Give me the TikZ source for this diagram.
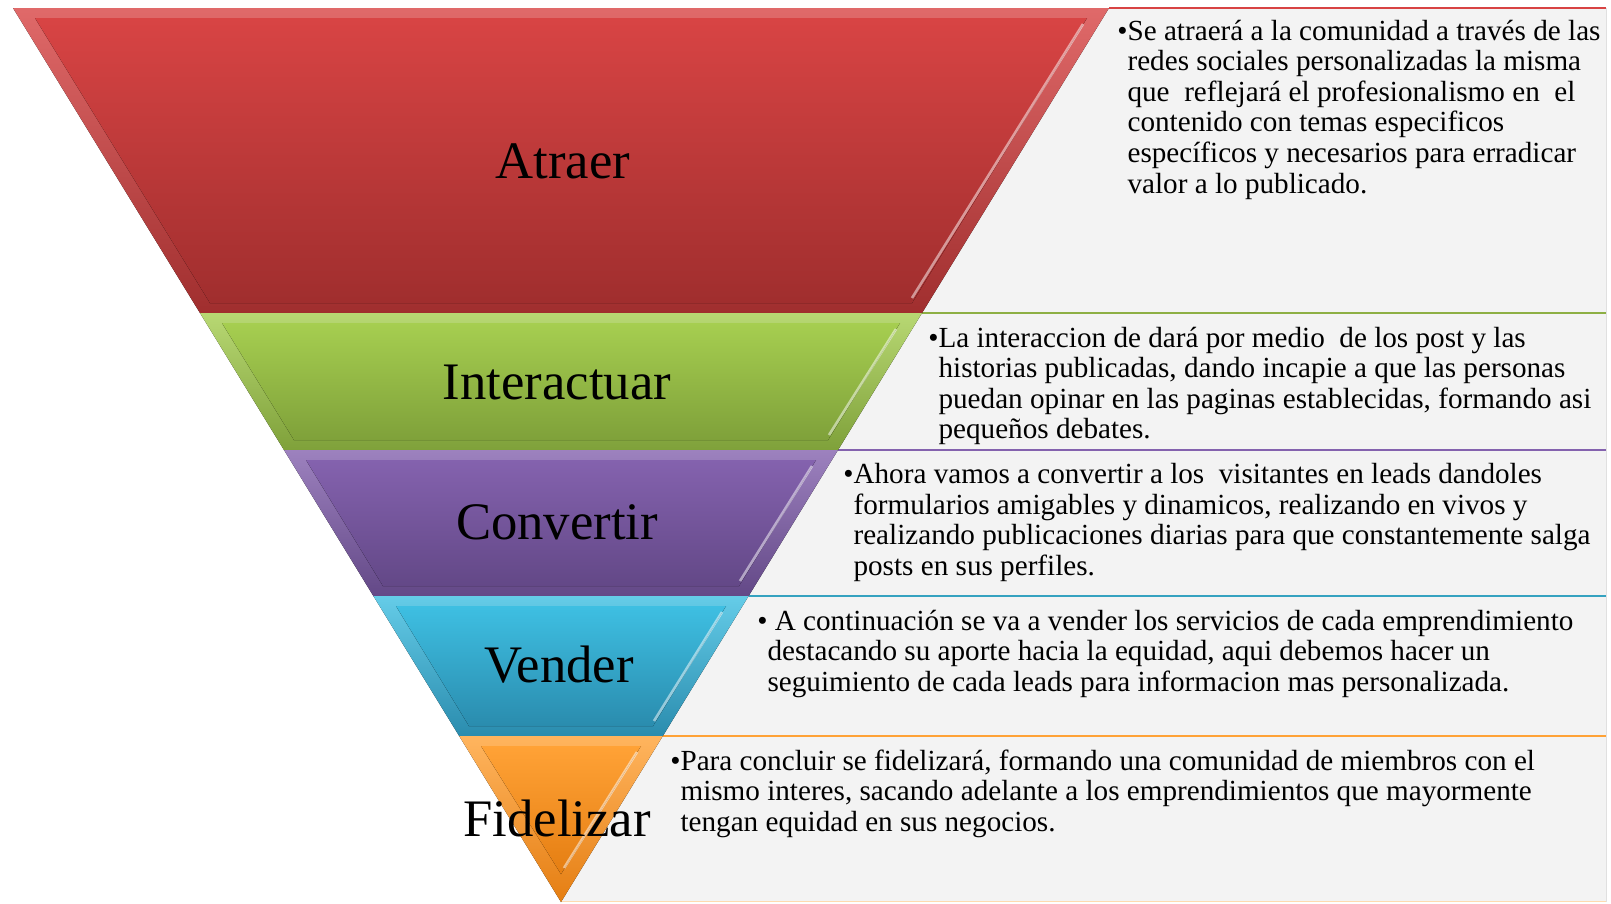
\documentclass[tikz,border=0pt]{standalone}
\usepackage{fontspec}
\setmainfont{Liberation Serif}
\usetikzlibrary{positioning}

\definecolor{atrtop}{HTML}{D84444}
\definecolor{atrbot}{HTML}{A02E2E}
\definecolor{inttop}{HTML}{A6CE50}
\definecolor{intbot}{HTML}{7FA13A}
\definecolor{contop}{HTML}{8462AE}
\definecolor{conbot}{HTML}{634887}
\definecolor{ventop}{HTML}{3EBFE2}
\definecolor{venbot}{HTML}{2A8CAE}
\definecolor{fidtop}{HTML}{FFA236}
\definecolor{fidbot}{HTML}{E57E12}
\definecolor{panelgray}{HTML}{F3F3F3}

\begin{document}
\begin{tikzpicture}[x=0.02cm, y=-0.02cm,
    panel/.style={fill=panelgray},
    sepline/.style={line width=1.3pt},
    shine/.style={draw=white, opacity=0.5, line width=1.5pt},
    stagetext/.style={font=\fontsize{30}{36}\selectfont, inner sep=0pt},
    desc/.style={font=\fontsize{16.6}{17.4}\selectfont, inner sep=0pt, anchor=north west}]

    \useasboundingbox (0,0) rectangle (1611,903);

    % Text panels
    \fill[panel] (561,8) rectangle (1606,313);
    \fill[panel] (561,313) rectangle (1606,450);
    \fill[panel] (561,450) rectangle (1606,596);
    \fill[panel] (561,596) rectangle (1606,736);
    \fill[panel] (561,736) rectangle (1606,902);
    \draw[black!12, line width=0.5pt] (1606,8) -- (1606,902);

    \draw[sepline, atrtop] (1109,8) -- (1606,8);
    \draw[sepline, inttop!85!black] (922,313) -- (1606,313);
    \draw[sepline, contop] (838,450) -- (1606,450);
    \draw[sepline, ventop!85!black] (748.6,596) -- (1606,596);
    \draw[sepline, fidtop] (662.8,736) -- (1606,736);
    \draw[fidtop!40] (561,901.5) -- (1606,901.5);

    % Atraer
    \fill[top color=atrtop!80!white, bottom color=atrbot] (13,8) -- (1109,8) -- (922,313) -- (200,313) -- cycle;
    \fill[top color=atrtop, bottom color=atrbot] (35,18) -- (1087,18) -- (912,303) -- (210,303) -- cycle;
    \draw[shine] (1083,24) -- (912,298);

    % Interactuar
    \fill[top color=inttop!80!white, bottom color=intbot] (200,313) -- (922,313) -- (838,450) -- (284,450) -- cycle;
    \fill[top color=inttop, bottom color=intbot] (222,323) -- (900,323) -- (828,440) -- (294,440) -- cycle;
    \draw[shine] (896,329) -- (829,435);

    % Convertir
    \fill[top color=contop!80!white, bottom color=conbot] (284,450) -- (838,450) -- (748.6,596) -- (373.4,596) -- cycle;
    \fill[top color=contop, bottom color=conbot] (306,460) -- (816,460) -- (739,586) -- (383,586) -- cycle;
    \draw[shine] (812,466) -- (740,581);

    % Vender
    \fill[top color=ventop!80!white, bottom color=venbot] (373.4,596) -- (748.6,596) -- (662.8,736) -- (459.2,736) -- cycle;
    \fill[top color=ventop, bottom color=venbot] (396,606) -- (726,606) -- (653,726) -- (469,726) -- cycle;
    \draw[shine] (722,612) -- (654,721);

    % Fidelizar
    \fill[top color=fidtop!80!white, bottom color=fidbot] (459.2,736) -- (662.8,736) -- (561,902) -- cycle;
    \fill[top color=fidtop, bottom color=fidbot] (481,746) -- (641,746) -- (561,874) -- cycle;
    \draw[shine] (637,752) -- (564,868);

    % Stage names
    \node[stagetext] (atraer) at (563,161) {Atraer};
    \node[stagetext] (interactuar) at (557,382) {Interactuar};
    \node[stagetext] (convertir) at (557,522) {Convertir};
    \node[stagetext] (vender) at (559,665) {Vender};
    \node[stagetext] (fidelizar) at (557,818) {Fidelizar};

    % Descriptions
    \node[desc] (txtatraer) at (1117,18.5) {\begin{tabular}{@{}l@{}l@{}}
        \textbullet & Se atraerá a la comunidad a través de las\\
        & redes sociales personalizadas la misma\\
        & que\ \ reflejará el profesionalismo en\ \ el\\
        & contenido con temas especificos\\
        & específicos y necesarios para erradicar\\
        & valor a lo publicado.
    \end{tabular}};
    \node[desc] (txtinteractuar) at (928,325.5) {\begin{tabular}{@{}l@{}l@{}}
        \textbullet & La interaccion de dará por medio\ \ de los post y las\\
        & historias publicadas, dando incapie a que las personas\\
        & puedan opinar en las paginas establecidas, formando asi\\
        & pequeños debates.
    \end{tabular}};
    \node[desc] (txtconvertir) at (843,462) {\begin{tabular}{@{}l@{}l@{}}
        \textbullet & Ahora vamos a convertir a los\ \ visitantes en leads dandoles\\
        & formularios amigables y dinamicos, realizando en vivos y\\
        & realizando publicaciones diarias para que constantemente salga\\
        & posts en sus perfiles.
    \end{tabular}};
    \node[desc] (txtvender) at (757,608.5) {\begin{tabular}{@{}l@{}l@{}}
        \textbullet & \ A continuación se va a vender los servicios de cada emprendimiento\\
        & destacando su aporte hacia la equidad, aqui debemos hacer un\\
        & seguimiento de cada leads para informacion mas personalizada.
    \end{tabular}};
    \node[desc] (txtfidelizar) at (670,748.5) {\begin{tabular}{@{}l@{}l@{}}
        \textbullet & Para concluir se fidelizará, formando una comunidad de miembros con el\\
        & mismo interes, sacando adelante a los emprendimientos que mayormente\\
        & tengan equidad en sus negocios.
    \end{tabular}};
\end{tikzpicture}
\end{document}
